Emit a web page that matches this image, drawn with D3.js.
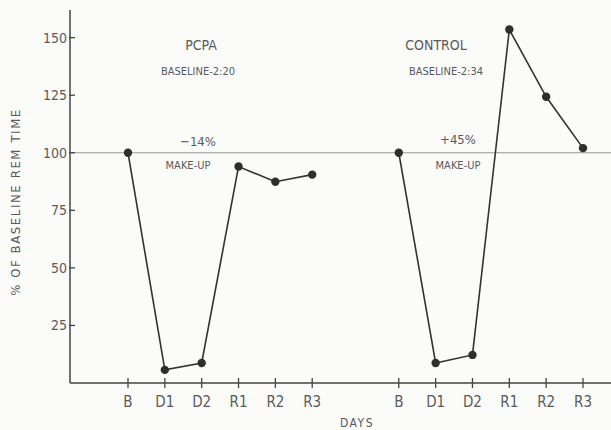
<!DOCTYPE html>
<html>
<head>
<meta charset="utf-8">
<script src="https://cdn.jsdelivr.net/npm/d3@7"></script>
<style>
  body { margin: 0; background: #fbfbfa; }
  svg text { font-family: "Liberation Sans Narrow", "DejaVu Sans Condensed", "Liberation Sans", sans-serif; fill: #5a5a5a; }
</style>
</head>
<body>
<svg id="chart" width="611" height="430"></svg>
<script>
// days shown for each group
const days = ["B", "D1", "D2", "R1", "R2", "R3"];
// % of baseline REM time
const pcpaValues = [100, 5.7, 8.7, 94, 87.4, 90.5];
const controlValues = [100, 8.7, 12.2, 153.5, 124.3, 102];
const yTicks = [25, 50, 75, 100, 125, 150];
const groupOffset = 7.35; // second group starts after a gap

const svg = d3.select("#chart");

const y = d3.scaleLinear().domain([0, 162]).range([383, 10]);
const x = d3.scaleLinear().domain([0, groupOffset + 5]).range([128, 583]);
const axisX = 70;

// baseline reference line at 100%
svg.append("line")
    .attr("x1", axisX).attr("x2", 611)
    .attr("y1", y(100)).attr("y2", y(100))
    .attr("stroke", "#999").attr("stroke-width", 1.2);

// y axis
const yAxis = svg.append("g").attr("transform", `translate(${axisX},0)`)
    .call(d3.axisLeft(y).tickValues(yTicks).tickSize(0).tickPadding(3));
yAxis.select(".domain").remove();
yAxis.selectAll("text").style("font-size", "14px").attr("fill", "#5a5a5a");
svg.append("line")
    .attr("x1", axisX).attr("x2", axisX)
    .attr("y1", y(162)).attr("y2", y(0))
    .attr("stroke", "#444").attr("stroke-width", 1.5);
svg.selectAll(".ytick").data(yTicks).enter().append("line")
    .attr("x1", axisX - 1).attr("x2", axisX + 5)
    .attr("y1", (d) => y(d)).attr("y2", (d) => y(d))
    .attr("stroke", "#444").attr("stroke-width", 1.3);

// x axis
svg.append("line")
    .attr("x1", axisX).attr("x2", 611)
    .attr("y1", y(0)).attr("y2", y(0))
    .attr("stroke", "#444").attr("stroke-width", 1.5);

const xPositions = days.map((d, i) => i).concat(days.map((d, i) => i + groupOffset));
const xLabels = days.concat(days);

svg.selectAll(".xtick").data(xPositions).enter().append("line")
    .attr("x1", (d) => x(d)).attr("x2", (d) => x(d))
    .attr("y1", y(0) - 5).attr("y2", y(0) + 5)
    .attr("stroke", "#444").attr("stroke-width", 1.3);

svg.selectAll(".xlabel").data(xPositions).enter().append("text")
    .attr("x", (d) => x(d))
    .attr("y", y(0) + 24)
    .attr("text-anchor", "middle")
    .style("font-size", "15px")
    .text((d, i) => xLabels[i]);

svg.append("text")
    .attr("x", 357).attr("y", 427)
    .attr("text-anchor", "middle")
    .style("font-size", "12px")
    .style("letter-spacing", "1.5px")
    .text("DAYS");

svg.append("text")
    .attr("transform", "translate(20,202) rotate(-90)")
    .attr("text-anchor", "middle")
    .style("font-size", "13px")
    .style("letter-spacing", "1.6px")
    .text("% OF BASELINE REM TIME");

// series lines and dots
function drawSeries(values, offset) {
    const line = d3.line()
        .x((d, i) => x(i + offset))
        .y((d) => y(d));
    svg.append("path")
        .datum(values)
        .attr("d", line)
        .attr("fill", "none")
        .attr("stroke", "#333")
        .attr("stroke-width", 1.6);
    svg.selectAll(null).data(values).enter().append("circle")
        .attr("cx", (d, i) => x(i + offset))
        .attr("cy", (d) => y(d))
        .attr("r", 4.2)
        .attr("fill", "#2e2e2e");
}
drawSeries(pcpaValues, 0);
drawSeries(controlValues, groupOffset);

// annotations
const notes = [
    { t: "PCPA", x: 201, y: 50, s: 14 },
    { t: "BASELINE-2:20", x: 198, y: 75, s: 11 },
    { t: "−14%", x: 198, y: 146, s: 13 },
    { t: "MAKE-UP", x: 188, y: 169, s: 11 },
    { t: "CONTROL", x: 436, y: 50, s: 14 },
    { t: "BASELINE-2:34", x: 446, y: 75, s: 11 },
    { t: "+45%", x: 458, y: 144, s: 13 },
    { t: "MAKE-UP", x: 458, y: 169, s: 11 }
];
svg.selectAll(".note").data(notes).enter().append("text")
    .attr("x", (d) => d.x).attr("y", (d) => d.y)
    .attr("text-anchor", "middle")
    .style("font-size", (d) => d.s + "px")
    .text((d) => d.t);
</script>
</body>
</html>
